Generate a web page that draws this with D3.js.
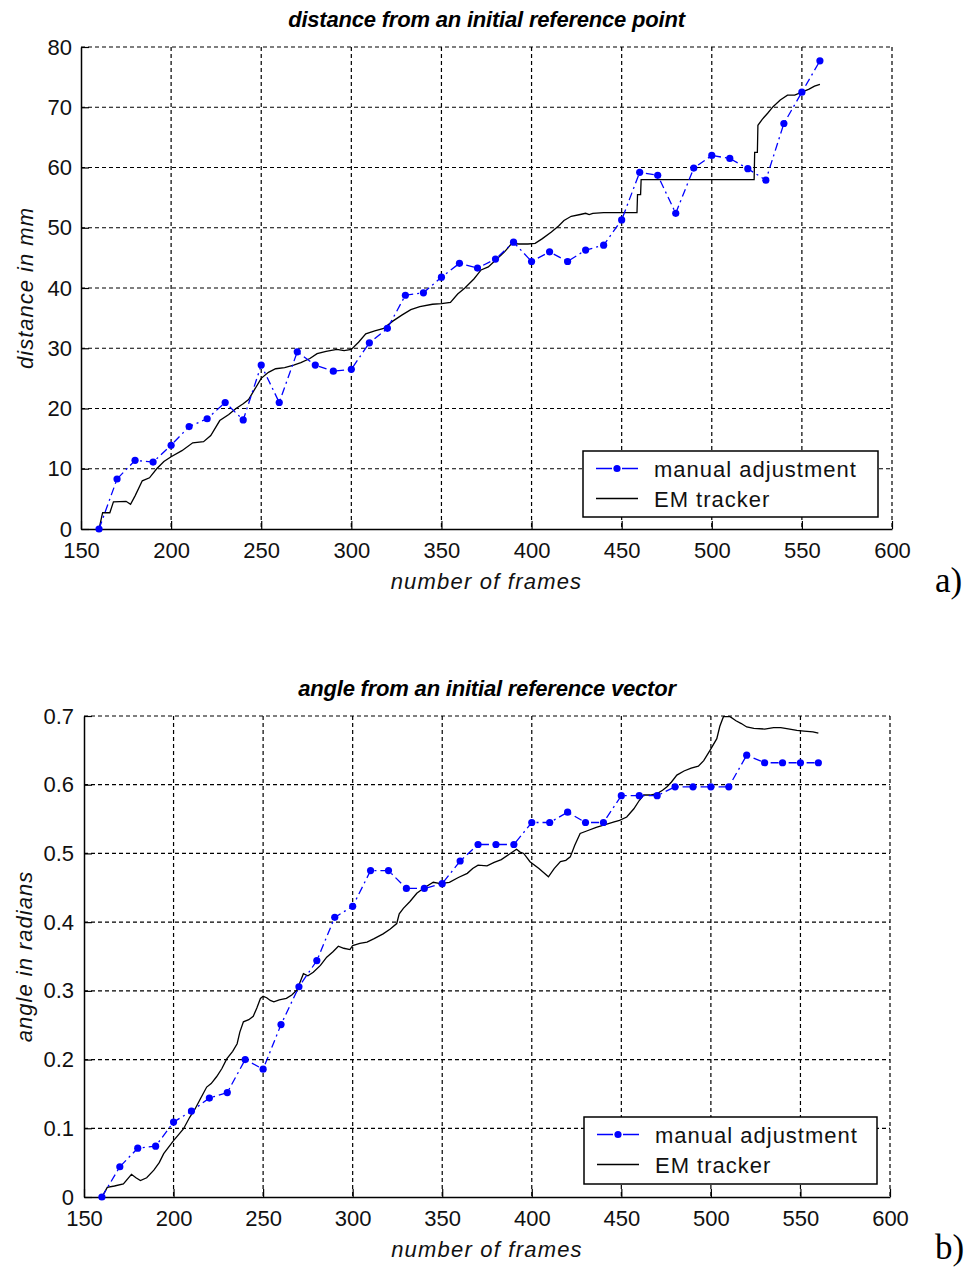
<!DOCTYPE html>
<html>
<head>
<meta charset="utf-8">
<script src="https://cdn.jsdelivr.net/npm/d3@7"></script>
<style>
  body { margin: 0; background: #fff; }
  svg text { font-family: "Liberation Sans", Arial, sans-serif; fill: #000; }
</style>
</head>
<body>
<div class="chart"></div>
<script>
const frames = [160, 170, 180, 190, 200, 210, 220, 230, 240, 250,
    260, 270, 280, 290, 300, 310, 320, 330, 340, 350,
    360, 370, 380, 390, 400, 410, 420, 430, 440, 450,
    460, 470, 480, 490, 500, 510, 520, 530, 540, 550, 560];

const xTicks = [150, 200, 250, 300, 350, 400, 450, 500, 550, 600];
const distTicks = [0, 10, 20, 30, 40, 50, 60, 70, 80];
const angleTicks = [0, 0.1, 0.2, 0.3, 0.4, 0.5, 0.6, 0.7];

const distManual = [0, 8.3, 11.4, 11.1, 13.9, 17.0, 18.3, 21.0, 18.1, 27.2,
    21.0, 29.4, 27.2, 26.2, 26.5, 30.9, 33.3, 38.8, 39.2, 41.8,
    44.1, 43.3, 44.8, 47.6, 44.4, 46.0, 44.4, 46.3, 47.1, 51.3,
    59.2, 58.7, 52.4, 59.9, 62.0, 61.5, 59.8, 57.9, 67.3, 72.5, 77.7];

const angleManual = [0, 0.044, 0.071, 0.074, 0.109, 0.125, 0.144, 0.152, 0.200, 0.186,
    0.251, 0.306, 0.344, 0.407, 0.423, 0.475, 0.475, 0.449, 0.449, 0.456,
    0.489, 0.513, 0.513, 0.513, 0.545, 0.545, 0.560, 0.545, 0.545, 0.584,
    0.584, 0.584, 0.597, 0.597, 0.597, 0.597, 0.643, 0.632, 0.632, 0.632, 0.632];

// EM tracker
const distEmFrames = [160, 162, 166, 168, 175, 177.5, 180, 184, 188, 192, 196, 200, 206, 212, 218,
    222, 227, 232, 236, 240, 243, 246, 250, 254, 258, 263, 268, 272, 277, 281, 286, 292, 296,
    300, 304, 308, 313, 318, 323, 328, 333, 338, 345, 350, 355, 359, 363, 368, 372, 376, 380,
    385, 389, 393, 398, 402, 406, 411, 415, 418, 422, 427, 430, 432, 434, 440, 450, 458.5,
    458.8, 460.5, 460.8, 523.5, 523.8, 525.3, 525.6, 528, 531, 534, 538, 542, 546, 550, 554,
    557, 560];
const distEmValues = [0, 2.7, 2.7, 4.5, 4.6, 4.1, 5.5, 8.0, 8.5, 10.0, 11.2, 12.0, 13.0, 14.3, 14.5,
    15.5, 18.0, 19.0, 20.0, 20.8, 21.5, 23.0, 25.0, 26.0, 26.6, 26.8, 27.2, 27.6, 28.3, 29.1, 29.5, 29.8, 29.6,
    29.8, 31.0, 32.4, 32.9, 33.3, 34.5, 35.5, 36.4, 36.9, 37.3, 37.4, 37.6, 39.0, 40.0, 41.5, 43.0, 43.5, 44.6,
    46.0, 47.4, 47.3, 47.3, 47.4, 48.2, 49.3, 50.3, 51.2, 51.9, 52.2, 52.4, 52.2, 52.4, 52.5, 52.5, 52.5,
    55.5, 55.5, 58.0, 58.0, 62.5, 62.5, 67.0, 68.0, 69.0, 70.1, 71.2, 72.0, 72.0, 72.5, 73.0,
    73.5, 73.8];

const angleEmFrames = [160, 163, 167, 172, 176.5, 179, 181.5, 185, 189, 192, 194.5, 200, 205.5, 209,
    212, 215, 218.5, 221, 224, 227, 229.7, 233, 235.5, 237, 239, 242, 244.5, 246.5, 248.5, 250, 252,
    254, 256, 259, 263, 266, 268.8, 271, 272.5, 275, 278, 282, 285.5, 289, 292, 295, 298.5, 300, 304,
    308, 312, 317, 321, 324.6, 326, 328.3, 332, 335.8, 340, 345, 349, 354, 359, 364, 367, 370, 375,
    379, 383, 388, 391.5, 393.5, 395.5, 399, 404, 409.3, 412.5, 416, 419, 421.5, 424, 427, 431, 436,
    441, 446, 449, 453, 457, 460, 462.5, 466, 470, 473, 475.5, 478, 481, 485, 489, 493, 496, 499.5,
    503.3, 505, 507, 510.7, 514, 517, 520, 524, 530, 535, 539, 544, 548, 552, 557, 560];
const angleEmValues = [0, 0.014, 0.016, 0.019, 0.033, 0.028, 0.024, 0.028, 0.039, 0.050, 0.063, 0.082, 0.099, 0.116,
    0.128, 0.143, 0.160, 0.165, 0.175, 0.187, 0.201, 0.212, 0.223, 0.240, 0.255, 0.258, 0.263, 0.275, 0.289, 0.292, 0.290,
    0.286, 0.284, 0.287, 0.289, 0.294, 0.301, 0.315, 0.325, 0.322, 0.327, 0.337, 0.349, 0.357, 0.365, 0.362, 0.360, 0.366, 0.369,
    0.371, 0.376, 0.383, 0.390, 0.398, 0.412, 0.420, 0.430, 0.442, 0.450, 0.458, 0.456, 0.458, 0.465, 0.471, 0.478, 0.483, 0.482,
    0.487, 0.491, 0.500, 0.506, 0.502, 0.500, 0.488, 0.478, 0.466, 0.478, 0.488, 0.490, 0.495, 0.512, 0.529, 0.533, 0.538,
    0.542, 0.546, 0.548, 0.553, 0.565, 0.577, 0.585, 0.585, 0.587, 0.592, 0.597, 0.604, 0.614, 0.620, 0.624, 0.627, 0.635, 0.650,
    0.667, 0.685, 0.699, 0.699, 0.693, 0.689, 0.684, 0.682, 0.681, 0.683, 0.683, 0.681, 0.679, 0.678, 0.677, 0.675];

const width = 972;
const height = 1268;

const svg = d3.select(".chart")
    .append("svg")
    .attr("width", width)
    .attr("height", height);

drawPanel({
    left: 81, right: 892, top: 47, bottom: 529,
    yTicks: distTicks, yFormat: d => d, yPad: 9,
    manual: distManual, emX: distEmFrames, emY: distEmValues,
    title: "distance from an initial reference point",
    ylabel: "distance in mm",
    ylabelX: 33,
    legend: { x: 583, y: 451, w: 295, h: 66 },
    tag: "a)", tagY: 592
});

drawPanel({
    left: 84, right: 890, top: 716, bottom: 1197,
    yTicks: angleTicks, yFormat: d => d === 0 ? "0" : d.toFixed(1), yPad: 10,
    manual: angleManual, emX: angleEmFrames, emY: angleEmValues,
    title: "angle from an initial reference vector",
    ylabel: "angle in radians",
    ylabelX: 32,
    legend: { x: 584, y: 1117, w: 293, h: 67 },
    tag: "b)", tagY: 1259
});

function drawPanel(c) {
    const x = d3.scaleLinear().domain([150, 600]).range([c.left, c.right]);
    const y = d3.scaleLinear()
        .domain([c.yTicks[0], c.yTicks[c.yTicks.length - 1]])
        .range([c.bottom, c.top]);

    const g = svg.append("g");

    // grid
    g.append("g")
        .selectAll("line.vgrid")
        .data(xTicks.slice(1))
        .join("line")
        .attr("x1", d => x(d)).attr("x2", d => x(d))
        .attr("y1", c.top).attr("y2", c.bottom)
        .style("stroke", "#000")
        .style("stroke-width", 1.2)
        .style("stroke-dasharray", "4,3");

    g.append("g")
        .selectAll("line.hgrid")
        .data(c.yTicks.slice(1))
        .join("line")
        .attr("x1", c.left).attr("x2", c.right)
        .attr("y1", d => y(d)).attr("y2", d => y(d))
        .style("stroke", "#000")
        .style("stroke-width", 1.2)
        .style("stroke-dasharray", "4,3");

    // axes, ticks inward
    const xAxis = g.append("g")
        .attr("transform", `translate(0,${c.bottom})`)
        .call(d3.axisBottom(x).tickValues(xTicks).tickSizeInner(-8).tickSizeOuter(0).tickPadding(13));
    const yAxis = g.append("g")
        .attr("transform", `translate(${c.left},0)`)
        .call(d3.axisLeft(y).tickValues(c.yTicks).tickFormat(c.yFormat).tickSizeInner(-8).tickSizeOuter(0).tickPadding(c.yPad));

    [xAxis, yAxis].forEach(a => {
        a.select(".domain").style("stroke", "#000").style("stroke-width", 1.5);
        a.selectAll(".tick line").style("stroke", "#000").style("stroke-width", 1.2);
        a.selectAll(".tick text")
            .style("font-size", "22px")
            .style("font-family", "'Liberation Sans', Arial, sans-serif")
            .style("fill", "#111");
    });

    // EM tracker
    const em = c.emX.map((f, i) => [f, c.emY[i]]);
    g.append("path")
        .datum(em)
        .attr("d", d3.line().x(d => x(d[0])).y(d => y(d[1])))
        .style("fill", "none")
        .style("stroke", "#000")
        .style("stroke-width", 1.3);

    // manual adjustment
    const man = frames.map((f, i) => [f, c.manual[i]]);
    g.append("path")
        .datum(man)
        .attr("d", d3.line().x(d => x(d[0])).y(d => y(d[1])))
        .style("fill", "none")
        .style("stroke", "#0000ff")
        .style("stroke-width", 1.3)
        .style("stroke-dasharray", "8,4,2,4");

    g.append("g")
        .selectAll("circle")
        .data(man)
        .join("circle")
        .attr("cx", d => x(d[0]))
        .attr("cy", d => y(d[1]))
        .attr("r", 3.6)
        .style("fill", "#0000ff");

    // title and labels
    g.append("text")
        .attr("x", (c.left + c.right) / 2)
        .attr("y", c.top - 20)
        .attr("text-anchor", "middle")
        .style("font-size", "22px")
        .style("font-weight", "bold")
        .style("font-style", "italic")
        .style("letter-spacing", "-0.2px")
        .text(c.title);

    g.append("text")
        .attr("x", (c.left + c.right) / 2)
        .attr("y", c.bottom + 60)
        .attr("text-anchor", "middle")
        .style("font-size", "22px")
        .style("font-style", "italic")
        .style("letter-spacing", "1.2px")
        .style("fill", "#111")
        .text("number of frames");

    g.append("text")
        .attr("transform", `translate(${c.ylabelX},${(c.top + c.bottom) / 2}) rotate(-90)`)
        .attr("text-anchor", "middle")
        .style("font-size", "22px")
        .style("font-style", "italic")
        .style("letter-spacing", "1px")
        .style("fill", "#111")
        .text(c.ylabel);

    // legend
    const L = c.legend;
    const lg = g.append("g").attr("transform", `translate(${L.x},${L.y})`);
    lg.append("rect")
        .attr("width", L.w).attr("height", L.h)
        .style("fill", "#fff")
        .style("stroke", "#000")
        .style("stroke-width", 1.5);

    const row1 = 17.5, row2 = 47.5;
    lg.append("line")
        .attr("x1", 13).attr("x2", 55).attr("y1", row1).attr("y2", row1)
        .style("stroke", "#0000ff").style("stroke-width", 1.3)
        .style("stroke-dasharray", "16,4,2,4");
    lg.append("circle").attr("cx", 34).attr("cy", row1).attr("r", 3.6).style("fill", "#0000ff");
    lg.append("line")
        .attr("x1", 13).attr("x2", 55).attr("y1", row2).attr("y2", row2)
        .style("stroke", "#000").style("stroke-width", 1.3);

    lg.append("text").attr("x", 71).attr("y", row1 + 8)
        .style("font-size", "22px").style("letter-spacing", "1px")
        .style("fill", "#111").text("manual adjustment");
    lg.append("text").attr("x", 71).attr("y", row2 + 8)
        .style("font-size", "22px").style("letter-spacing", "1px")
        .style("fill", "#111").text("EM tracker");

    // panel tag
    svg.append("text")
        .attr("x", 935)
        .attr("y", c.tagY)
        .style("font-family", "'Liberation Serif', 'Times New Roman', serif")
        .style("font-size", "35px")
        .text(c.tag);
}
</script>
</body>
</html>
